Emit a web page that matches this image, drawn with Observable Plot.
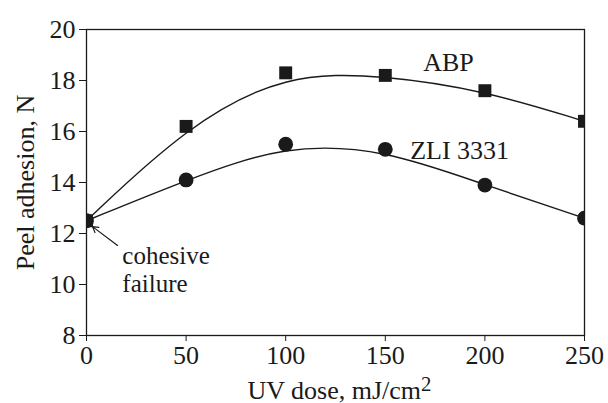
<!DOCTYPE html>
<html><head><meta charset="utf-8">
<script src="https://cdn.jsdelivr.net/npm/d3@7"></script>
<script src="https://cdn.jsdelivr.net/npm/@observablehq/plot@0.6"></script>
<style>body{margin:0;background:#fff}</style>
</head><body><div id="chart"></div>
<script>
const doses = [0, 50, 100, 150, 200, 250];
const abpValues = [12.5, 16.2, 18.3, 18.2, 17.6, 16.4];
const zliValues = [12.5, 14.1, 15.5, 15.3, 13.9, 12.6];
const seriesNames = ["ABP", "ZLI 3331"];
const xTicks = [0, 50, 100, 150, 200, 250];
const yTicks = [8, 10, 12, 14, 16, 18, 20];
const seriesLabelX = [169, 162.5];
const seriesLabelY = [18.39, 14.94];
const noteLines = ["cohesive", "failure"];
const noteX = 18;
const noteY = [10.8, 9.72];
const arrowFrom = [15.6, 11.53];
const arrowTo = [3.0, 12.27];
const xTitle = "UV dose, mJ/cm";
const yTitle = "Peel adhesion, N";

const ink = "#1a1a1a";
const font = "'Liberation Serif', 'Times New Roman', serif";
const abp = doses.map((d, i) => ({dose: d, value: abpValues[i]}));
const zli = doses.map((d, i) => ({dose: d, value: zliValues[i]}));
const labels = seriesNames.map((n, i) => ({text: n, x: seriesLabelX[i], y: seriesLabelY[i]}));
const notes = noteLines.map((t, i) => ({text: t, x: noteX, y: noteY[i]}));

const chart = Plot.plot({
  width: 608, height: 403,
  marginLeft: 86, marginRight: 24, marginTop: 29, marginBottom: 68,
  style: {fontFamily: font, fontSize: "26px", color: ink, background: "#fff"},
  x: {domain: [0, 250], ticks: xTicks, tickSize: 6, tickPadding: 4, label: null},
  y: {domain: [8, 20], ticks: yTicks, tickSize: 7, tickPadding: 4, label: null},
  marks: [
    Plot.frame({stroke: ink, strokeWidth: 1.3}),
    Plot.line(abp, {x: "dose", y: "value", curve: "basis", stroke: ink, strokeWidth: 1.4, clip: "frame"}),
    Plot.line(zli, {x: "dose", y: "value", curve: "basis", stroke: ink, strokeWidth: 1.4, clip: "frame"}),
    Plot.dot(abp, {x: "dose", y: "value", symbol: "square", r: 7.3, fill: ink, stroke: "none", clip: "frame"}),
    Plot.dot(zli, {x: "dose", y: "value", symbol: "circle", r: 7.4, fill: ink, stroke: "none", clip: "frame"}),
    Plot.text(labels, {x: "x", y: "y", text: "text", textAnchor: "start", lineAnchor: "bottom", fontSize: 26, fontFamily: font, fill: ink}),
    Plot.text(notes, {x: "x", y: "y", text: "text", textAnchor: "start", lineAnchor: "bottom", fontSize: 25, fontFamily: font, fill: ink}),
    Plot.arrow([0], {x1: () => arrowFrom[0], y1: () => arrowFrom[1], x2: () => arrowTo[0], y2: () => arrowTo[1], stroke: ink, strokeWidth: 1.2, headLength: 8}),
    Plot.text([yTitle], {frameAnchor: "left", text: d => d, rotate: -90, dx: -53, textAnchor: "middle", lineAnchor: "bottom", fontSize: 26, fontFamily: font, fill: ink}),
    Plot.text([xTitle], {frameAnchor: "bottom", text: d => d, dx: 4, dy: 63, textAnchor: "middle", lineAnchor: "bottom", fontSize: 26, fontFamily: font, fill: ink, className: "xtitle"})
  ]
});
document.getElementById("chart").appendChild(chart);
d3.select(chart).selectAll("g.xtitle text").append("tspan").attr("dy", "-0.38em").attr("font-size", "0.8em").text("2");
</script>
</body></html>
